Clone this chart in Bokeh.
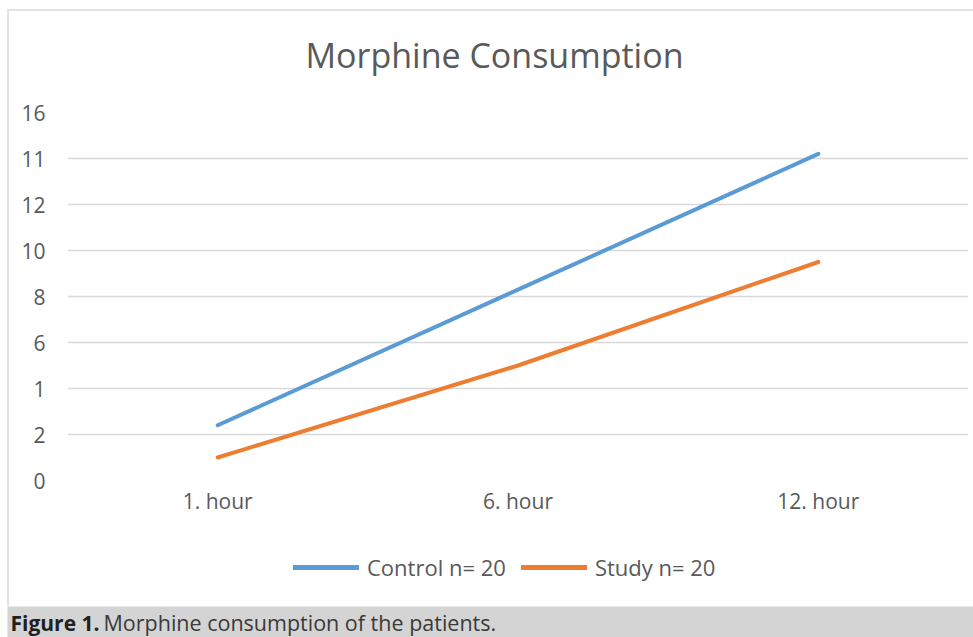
from bokeh.plotting import figure
from bokeh.models import (FactorRange, Range1d, Label, Legend, LegendItem,
                          FixedTicker, ColumnDataSource)
from bokeh.layouts import column
from bokeh.embed import file_html
from bokeh.resources import INLINE

# ---- data -------------------------------------------------------------
hours = ["1. hour", "6. hour", "12. hour"]
control = [2.4, 8.3, 14.2]
study = [1.0, 5.0, 9.5]
y_ticks = [0, 2, 4, 6, 8, 10, 12, 14, 16]
y_tick_labels = ["0", "2", "1", "6", "8", "10", "12", "11", "16"]
title_text = "Morphine Consumption"
series_names = ["Control n= 20", "Study n= 20"]
caption_bold = "Figure 1."
caption_text = "Morphine consumption of the patients."

FONT = "Open Sans"
GREY_TXT = "#595959"
BLUE = "#5b9bd5"
ORANGE = "#ed7d31"
W = 964
FRAME_L, FRAME_R = 58, 959   # frame edges of the chart (strips align to them)


def strip(width, height, x0=0, x1=None, **kw):
    f = figure(width=width, height=height, output_backend="svg",
               toolbar_location=None, x_axis_type=None, y_axis_type=None,
               x_range=Range1d(x0, width if x1 is None else x1),
               y_range=Range1d(0, height), min_border=0, **kw)
    f.grid.visible = False
    f.outline_line_color = None
    return f


# ---- title strip ----------------------------------------------------------
tfig = strip(W, 80, FRAME_L, FRAME_R)
tfig.add_layout(Label(x=485, y=37, text=title_text, text_font=FONT,
                      text_font_size="34px", text_color=GREY_TXT,
                      text_align="center", text_baseline="middle"))

# ---- main chart ---------------------------------------------------------
p = figure(width=W, height=429, output_backend="svg", toolbar_location=None,
           x_range=FactorRange(*hours, range_padding=0),
           y_range=Range1d(0, 16),
           min_border_left=FRAME_L, min_border_right=W - FRAME_R,
           min_border_top=21, min_border_bottom=40)
p.outline_line_color = None

src = ColumnDataSource(dict(x=hours, control=control, study=study))
p.line("x", "control", source=src, line_color=BLUE, line_width=4,
       line_cap="round", line_join="round")
p.line("x", "study", source=src, line_color=ORANGE, line_width=4,
       line_cap="round", line_join="round")

p.xgrid.visible = False
p.ygrid.grid_line_color = "#d9d9d9"
p.ygrid.grid_line_width = 1.5

p.yaxis.ticker = FixedTicker(ticks=y_ticks)
p.yaxis.major_label_overrides = {t: l for t, l in zip(y_ticks, y_tick_labels)}
for ax in (p.xaxis[0], p.yaxis[0]):
    ax.axis_line_color = None
    ax.major_tick_line_color = None
    ax.minor_tick_line_color = None
    ax.major_tick_out = 0
    ax.major_tick_in = 0
    ax.major_label_text_font = FONT
    ax.major_label_text_font_size = "21px"
    ax.major_label_text_color = GREY_TXT
p.xaxis.major_label_standoff = 6
p.yaxis.major_label_standoff = 22

# ---- legend strip ---------------------------------------------------------
lfig = strip(W, 86, FRAME_L, FRAME_R)
nan = float("nan")
l1 = lfig.line("x", "y", source=ColumnDataSource(dict(x=[nan], y=[nan])),
               line_color=BLUE, line_width=5, line_cap="round")
l2 = lfig.line("x", "y", source=ColumnDataSource(dict(x=[nan], y=[nan])),
               line_color=ORANGE, line_width=5, line_cap="round")
legend = Legend(items=[LegendItem(label=series_names[0], renderers=[l1]),
                       LegendItem(label=series_names[1], renderers=[l2])],
                orientation="horizontal", location=(226, 24),
                glyph_width=66, glyph_height=20, label_standoff=8,
                spacing=15, padding=4, margin=0,
                label_text_font=FONT, label_text_font_size="22px",
                label_text_color=GREY_TXT,
                border_line_color=None, background_fill_alpha=0)
lfig.add_layout(legend)

chart = column(tfig, p, lfig, spacing=0, margin=(9, 0, 0, 7),
               styles={"border-left": "2px solid #e3e3e3",
                       "border-top": "2px solid #e3e3e3"})

# ---- caption band -------------------------------------------------------
cap = strip(966, 31, margin=(0, 0, 0, 7))
cap.background_fill_color = "#d4d4d4"
cap.border_fill_color = "#d4d4d4"
cap.add_layout(Label(x=3, y=15, text=caption_bold, text_font=FONT,
                     text_font_style="bold", text_font_size="21px",
                     text_color="#231f20", text_baseline="middle"))
cap.add_layout(Label(x=96, y=15, text=caption_text, text_font=FONT,
                     text_font_size="21.5px", text_color="#3a3a3a",
                     text_baseline="middle"))

layout = column(chart, cap, spacing=0)

open("out.html", "w").write(file_html(layout, INLINE))
